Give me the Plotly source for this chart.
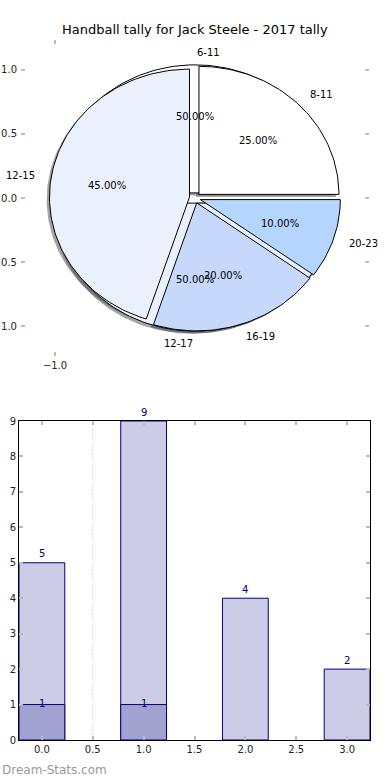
import numpy as np
import plotly.graph_objects as go

# ---------------- data ----------------
title = "Handball tally for Jack Steele - 2017 tally"
pie_labels = ["8-11", "12-15", "16-19", "20-23"]
pie_values = [5, 9, 4, 2]
pie_colors = ["#ffffff", "#eaf1fd", "#c6d9fd", "#b3d5fe"]
pie_explode = [0.04, 0.04, 0.04, 0.04]

pie2_labels = ["6-11", "12-17"]
pie2_values = [1, 1]
pie2_colors = ["#ffffff", "#eaf1fd"]
pie2_explode = [0.04, 0.04]

bar_x = [0, 1, 2, 3]
bar_totals = [5, 9, 4, 2]
bar_sub = [1, 1, 0, 0]
watermark = "Dream-Stats.com"

W, H = 390, 780
FONT = "DejaVu Sans"


def px_x(p):
    return p / W


def px_y(p):
    return 1 - p / H


fig = go.Figure()


def wedge_xy(cx, cy, t1, t2, r=1.0):
    n = max(int(abs(t2 - t1) / (2 * np.pi) * 240), 4)
    th = np.linspace(t1, t2, n)
    xs = np.concatenate([[cx], cx + r * np.cos(th), [cx]])
    ys = np.concatenate([[cy], cy + r * np.sin(th), [cy]])
    return xs, ys


def pie_geometry(values, explode=None, startangle=0.0):
    vals = np.asarray(values, dtype=float)
    fr = vals / vals.sum()
    out = []
    theta1 = startangle / 360.0
    for i, f in enumerate(fr):
        theta2 = theta1 + f
        thetam = 2 * np.pi * 0.5 * (theta1 + theta2)
        e = explode[i] if explode is not None else 0.0
        cx = e * np.cos(thetam)
        cy = e * np.sin(thetam)
        out.append(dict(t1=2 * np.pi * theta1, t2=2 * np.pi * theta2, tm=thetam, cx=cx, cy=cy, frac=f))
        theta1 = theta2
    return out


def shade(hexcol):
    h = hexcol.lstrip("#")
    r, g, b = int(h[0:2], 16), int(h[2:4], 16), int(h[4:6], 16)
    return "rgba(%d,%d,%d,0.5)" % (r * 0.3, g * 0.3, b * 0.3)


g1 = pie_geometry(pie_values, pie_explode)
g2 = pie_geometry(pie2_values, pie2_explode)

# shadows (beneath all wedges)
for geo, cols in ((g2, pie2_colors), (g1, pie_colors)):
    for w, c in zip(geo, cols):
        xs, ys = wedge_xy(w["cx"] - 0.02, w["cy"] - 0.02, w["t1"], w["t2"])
        fig.add_trace(go.Scatter(x=xs, y=ys, mode="lines", fill="toself", fillcolor=shade(c),
                                 line=dict(width=0), hoverinfo="skip", showlegend=False,
                                 xaxis="x", yaxis="y"))

# wedges: second pie first, then main pie on top
for geo, cols in ((g2, pie2_colors), (g1, pie_colors)):
    for w, c in zip(geo, cols):
        xs, ys = wedge_xy(w["cx"], w["cy"], w["t1"], w["t2"])
        fig.add_trace(go.Scatter(x=xs, y=ys, mode="lines", fill="toself", fillcolor=c,
                                 line=dict(width=1, color="#000000"), hoverinfo="skip",
                                 showlegend=False, xaxis="x", yaxis="y"))

annotations = []
for geo, labels in ((g1, pie_labels), (g2, pie2_labels)):
    for w, lab in zip(geo, labels):
        xt = w["cx"] + 1.1 * np.cos(w["tm"])
        yt = w["cy"] + 1.1 * np.sin(w["tm"])
        annotations.append(dict(x=xt, y=yt, xref="x", yref="y", text=lab, showarrow=False,
                                xanchor="left" if xt > 0 else "right", yanchor="middle",
                                font=dict(family=FONT, size=10, color="#000000")))
        xp = w["cx"] + 0.6 * np.cos(w["tm"])
        yp = w["cy"] + 0.6 * np.sin(w["tm"])
        annotations.append(dict(x=xp, y=yp, xref="x", yref="y", text="%.2f%%" % (100 * w["frac"]),
                                showarrow=False, xanchor="center", yanchor="middle",
                                font=dict(family=FONT, size=10, color="#000000")))

# ---------------- bars ----------------
fig.add_trace(go.Bar(x=bar_x, y=bar_totals, width=0.45, marker=dict(color="#ccccE6",
                     line=dict(color="#000080", width=1)), hoverinfo="skip", showlegend=False,
                     xaxis="x2", yaxis="y2"))
sub_x = [x for x, v in zip(bar_x, bar_sub) if v > 0]
sub_v = [v for v in bar_sub if v > 0]
fig.add_trace(go.Bar(x=sub_x, y=sub_v, width=0.45, marker=dict(color="#a2a2d1",
                     line=dict(color="#000080", width=1)), hoverinfo="skip", showlegend=False,
                     xaxis="x2", yaxis="y2"))

for x, v in zip(bar_x, bar_totals):
    annotations.append(dict(x=x, y=v, xref="x2", yref="y2", text=str(v), showarrow=False,
                            yanchor="middle", yshift=9,
                            font=dict(family=FONT, size=10, color="#000080")))
for x, v in zip(sub_x, sub_v):
    annotations.append(dict(x=x, y=v, xref="x2", yref="y2", text=str(v), showarrow=False,
                            yanchor="middle", yshift=1,
                            font=dict(family=FONT, size=10, color="#000080")))

annotations.append(dict(x=0.5, y=px_y(30), xref="paper", yref="paper", text=title, showarrow=False,
                        xanchor="center", yanchor="middle",
                        font=dict(family=FONT, size=13, color="#000000")))
annotations.append(dict(x=0, y=px_y(770), xref="paper", yref="paper", text=watermark, showarrow=False,
                        xanchor="left", yanchor="middle",
                        font=dict(family=FONT, size=12, color="#999999")))

tick_common = dict(ticks="inside", ticklen=4, tickwidth=1.5, tickcolor="#bbbbbb",
                   showgrid=False, zeroline=False, automargin=False,
                   tickfont=dict(family=FONT, size=10, color="#222222"))

fig.update_layout(
    width=W, height=H, margin=dict(l=0, r=0, t=0, b=0, autoexpand=False),
    paper_bgcolor="white", plot_bgcolor="rgba(0,0,0,0)",
    barmode="overlay", annotations=annotations,
    xaxis=dict(domain=[px_x(21), px_x(369)], range=[-1.243, 1.243], tickvals=[-1.0],
               tickformat=".1f", showline=False, mirror="ticks", anchor="y",
               ticklabelstandoff=2, **tick_common),
    yaxis=dict(domain=[px_y(356), px_y(40)], range=[-1.234, 1.234],
               tickvals=[-1.0, -0.5, 0.0, 0.5, 1.0], tickformat=".1f", showline=False,
               mirror="ticks", anchor="x", ticklabelstandoff=3, **tick_common),
    xaxis2=dict(domain=[px_x(19), px_x(370)], range=[-0.225, 3.225], dtick=0.5, tick0=0,
                tickformat=".1f", showline=True, linecolor="#000000", linewidth=1,
                mirror="ticks", anchor="y2", **tick_common),
    yaxis2=dict(domain=[px_y(740), px_y(421)], range=[0, 9], dtick=1, tick0=0,
                showline=True, linecolor="#000000", linewidth=1, mirror="ticks",
                anchor="x2", **tick_common),
    shapes=[dict(type="line", xref="x2", yref="y2", x0=0.5, x1=0.5, y0=0, y1=9,
                 line=dict(color="#c8c8c8", width=1, dash="1px,1.5px"), layer="below")],
)

fig.write_html("out.html", config={"displayModeBar": False},
               post_script="document.body.style.margin='0';document.body.style.overflow='hidden';")
